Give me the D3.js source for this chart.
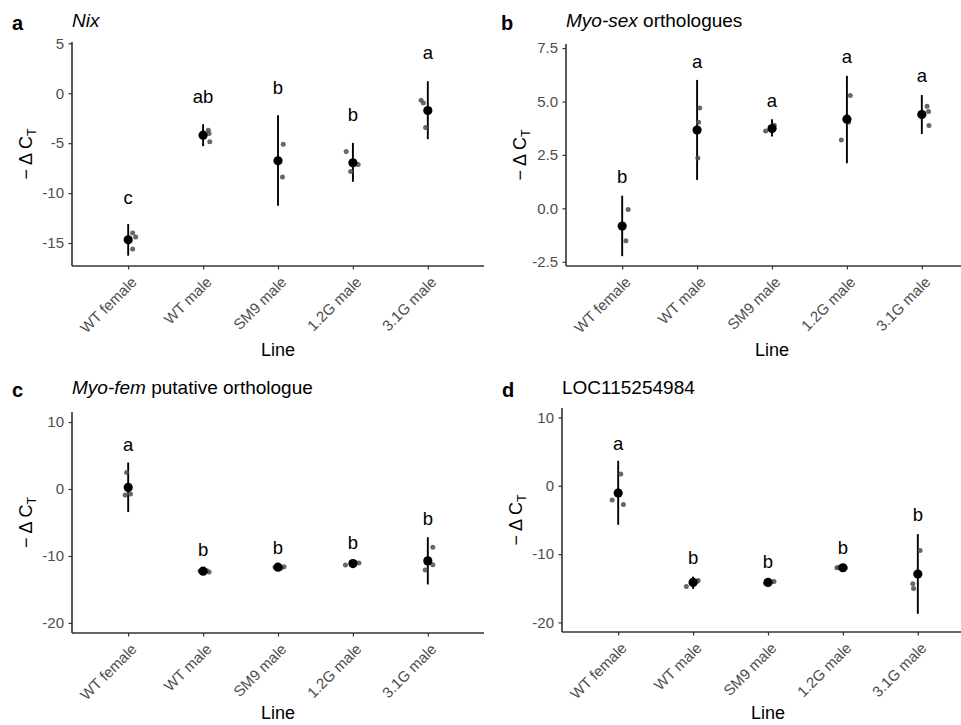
<!DOCTYPE html>
<html><head><meta charset="utf-8">
<script src="https://cdn.jsdelivr.net/npm/d3@7"></script>
<style>body{margin:0;background:#fff}svg{display:block}text{font-family:"Liberation Sans",Arial,sans-serif}</style>
</head><body>
<svg id="chart" width="961" height="725"></svg>
<script>
const categories = ["WT female","WT male","SM9 male","1.2G male","3.1G male"];

// Panel a: Nix
const aMeans = [-14.67, -4.2, -6.77, -6.97, -1.73];
const aErrLo = [-16.27, -5.3, -11.27, -8.87, -4.6];
const aErrHi = [-13.1, -3.1, -2.2, -4.97, 1.2];
const aPoints = [[-14.0,-14.4,-15.6],[-3.7,-4.03,-4.87],[-5.1,-8.4],[-5.83,-7.83,-7.13],[-0.7,-0.97,-3.43]];
const aJitter = [[0.06,0.10,0.06],[0.07,0.08,0.09],[0.07,0.06],[-0.09,-0.03,0.07],[-0.09,-0.06,-0.03]];
const aLetters = ["c","ab","b","b","a"];
const aLetterY = [-10.4, -0.3, 0.57, -2.1, 4.03];
const aTicks = [-15,-10,-5,0,5];

// Panel b: Myo-sex orthologues
const bMeans = [-0.83, 3.66, 3.73, 4.17, 4.39];
const bErrLo = [-2.24, 1.33, 3.36, 2.11, 3.48];
const bErrHi = [0.59, 6.01, 4.17, 6.2, 5.3];
const bPoints = [[-0.06,-1.52],[4.69,4.03,2.36],[3.62,3.89,3.73],[3.2,5.28,4.03],[4.78,4.53,3.87]];
const bJitter = [[0.08,0.05],[0.035,0.02,0.01],[-0.085,0.03,0.027],[-0.075,0.045,0.02],[0.07,0.09,0.095]];
const bLetters = ["b","a","a","a","a"];
const bLetterY = [1.48, 6.87, 5.04, 7.11, 6.23];
const bTicks = [-2.5,0,2.5,5,7.5];

// Panel c: Myo-fem putative orthologue
const cMeans = [0.24, -12.27, -11.67, -11.13, -10.73];
const cErrLo = [-3.44, -12.5, -11.85, -11.35, -14.25];
const cErrHi = [3.96, -12.05, -11.5, -10.9, -7.2];
const cPoints = [[2.47,-0.91,-0.76],[-12.2,-12.4,-12.25],[-11.6,-11.8,-11.7],[-11.35,-11.05,-11.0],[-8.7,-11.3,-12.1]];
const cJitter = [[-0.02,-0.04,0.03],[0.05,0.08,-0.04],[0.08,0.04,-0.04],[-0.10,0.08,0.03],[0.067,0.067,-0.035]];
const cLetters = ["a","b","b","b","b"];
const cLetterY = [6.68, -9.09, -8.7, -8.0, -4.43];
const cTicks = [-20,-10,0,10];

// Panel d: LOC115254984
const dMeans = [-1.07, -14.15, -14.15, -12.0, -12.93];
const dErrLo = [-5.71, -15.1, -14.4, -12.2, -18.74];
const dErrHi = [3.66, -13.3, -13.9, -11.8, -7.08];
const dPoints = [[1.71,-2.1,-2.73],[-14.74,-13.86,-14.0],[-14.0,-14.1,-14.25],[-12.0,-11.95,-12.05],[-9.47,-14.35,-15.03]];
const dJitter = [[0.035,-0.08,0.07],[-0.09,0.067,0.05],[0.08,0.04,-0.03],[-0.08,-0.055,0.03],[0.03,-0.067,-0.057]];
const dLetters = ["a","b","b","b","b"];
const dLetterY = [6.25, -10.5, -11.13, -9.03, -4.25];
const dTicks = [-20,-10,0,10];

const fmtInt = d => String(d);
const fmtOne = d => d.toFixed(1);

const panels = [
  {tag:"a", title:[["Nix",true]], means:aMeans, lo:aErrLo, hi:aErrHi, pts:aPoints, jit:aJitter, letters:aLetters, ly:aLetterY, ticks:aTicks, fmt:fmtInt,
   box:{l:72,t:42,r:484,b:266}, dom:[-17.3,5.13], tagX:12, textY:0},
  {tag:"b", title:[["Myo-sex",true],[" orthologues",false]], means:bMeans, lo:bErrLo, hi:bErrHi, pts:bPoints, jit:bJitter, letters:bLetters, ly:bLetterY, ticks:bTicks, fmt:fmtOne,
   box:{l:566,t:44,r:978,b:266}, dom:[-2.7,7.69], tagX:501, textY:0},
  {tag:"c", title:[["Myo-fem",true],[" putative orthologue",false]], means:cMeans, lo:cErrLo, hi:cErrHi, pts:cPoints, jit:cJitter, letters:cLetters, ly:cLetterY, ticks:cTicks, fmt:fmtInt,
   box:{l:72,t:412,r:484,b:633}, dom:[-21.5,11.5], tagX:12, textY:367},
  {tag:"d", title:[["LOC115254984",false]], means:dMeans, lo:dErrLo, hi:dErrHi, pts:dPoints, jit:dJitter, letters:dLetters, ly:dLetterY, ticks:dTicks, fmt:fmtInt,
   box:{l:562,t:408,r:974,b:632}, dom:[-21.4,11.38], tagX:502, textY:367}
];

const svg = d3.select("#chart");
const FF = '"Liberation Sans",Arial,sans-serif';

panels.forEach(p => {
  const g = svg.append("g");
  const B = p.box;
  const x = d3.scalePoint().domain(categories).range([B.l, B.r]).padding(0.75);
  const y = d3.scaleLinear().domain(p.dom).range([B.b, B.t]);
  const step = x.step();

  // y axis
  const ya = g.append("g").attr("transform", `translate(${B.l},0)`)
    .call(d3.axisLeft(y).tickValues(p.ticks).tickFormat(p.fmt).tickSize(3.5).tickPadding(4.5));
  ya.select(".domain").attr("stroke","#333").attr("stroke-width",1.6).attr("d", `M0,${B.t}V${B.b}`);
  ya.selectAll(".tick line").attr("stroke","#333").attr("stroke-width",1.2);
  ya.selectAll(".tick text").attr("fill","#4d4d4d").style("font-size","15px").style("font-family",FF);

  // x axis
  const xa = g.append("g").attr("transform", `translate(0,${B.b})`)
    .call(d3.axisBottom(x).tickSize(3.5).tickPadding(3));
  xa.select(".domain").attr("stroke","#333").attr("stroke-width",1.6).attr("d", `M${B.l},0H${B.r}`);
  xa.selectAll(".tick line").attr("stroke","#333").attr("stroke-width",1.2);
  xa.selectAll(".tick text").attr("fill","#4d4d4d").style("font-size","15px").style("font-family",FF)
    .attr("text-anchor","end").attr("dy",null).attr("y",null)
    .attr("transform","translate(9,17) rotate(-45)");

  // x title
  g.append("text").attr("x", (x(categories[0]) + x(categories[4]))/2).attr("y", Math.min(B.b + 90, 719))
    .attr("text-anchor","middle").style("font-size","18px").attr("fill","#000").text("Line");

  // y title
  const yt = g.append("text").attr("transform", `translate(${B.l-40.5},${(B.t+B.b)/2}) rotate(-90)`)
    .attr("text-anchor","middle").style("font-size","18px").attr("fill","#000");
  yt.append("tspan").text("\u2212 \u0394 C");
  yt.append("tspan").text("T").style("font-size","12.5px").attr("dy", 4);

  // panel tag
  g.append("text").attr("x", p.tagX).attr("y", p.textY+30).style("font-size","20px").style("font-weight","bold").attr("fill","#000").text(p.tag);
  // title
  const tt = g.append("text").attr("x", B.l).attr("y", p.textY+27.3).style("font-size","19px").attr("fill","#000");
  p.title.forEach(([s,it]) => tt.append("tspan").text(s).style("font-style", it ? "italic" : "normal"));

  // error bars
  g.selectAll(".err").data(categories).join("line")
    .attr("x1", c => x(c)).attr("x2", c => x(c))
    .attr("y1", (c,i) => y(p.lo[i])).attr("y2", (c,i) => y(p.hi[i]))
    .attr("stroke","#000").attr("stroke-width",1.9);

  // raw points
  const flat = [];
  p.pts.forEach((arr,i) => arr.forEach((v,j) => flat.push({c:categories[i], v, j:p.jit[i][j]})));
  g.selectAll(".pt").data(flat).join("circle")
    .attr("cx", d => x(d.c) + d.j*step).attr("cy", d => y(d.v)).attr("r", 2.5)
    .attr("fill","#4d4d4d").attr("fill-opacity",0.85);

  // means
  g.selectAll(".mean").data(categories).join("circle")
    .attr("cx", c => x(c)).attr("cy", (c,i) => y(p.means[i])).attr("r", 4.6).attr("fill","#000");

  // letters
  g.selectAll(".let").data(categories).join("text")
    .attr("x", c => x(c)).attr("y", (c,i) => y(p.ly[i])).attr("dy","0.35em")
    .attr("text-anchor","middle").style("font-size","18.5px").attr("fill","#000")
    .text((c,i) => p.letters[i]);
});
</script>
</body></html>
